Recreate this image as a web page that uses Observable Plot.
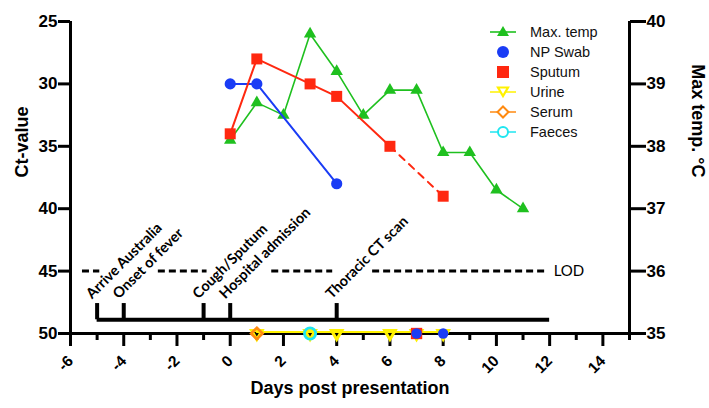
<!DOCTYPE html>
<html>
<head>
<meta charset="utf-8">
<script src="https://cdn.jsdelivr.net/npm/d3@7"></script>
<script src="https://cdn.jsdelivr.net/npm/@observablehq/plot@0.6"></script>
<style>
  body { margin: 0; background: #fff; }
  #wrap { position: relative; width: 709px; height: 408px; }
  #legend { position: absolute; left: 488px; top: 22px; font-family: 'Liberation Sans', Arial, sans-serif; font-size: 14.5px; color: #111; }
  .row { display: flex; align-items: center; height: 20px; }
  .row svg { width: 30px; height: 20px; margin-right: 12px; }
</style>
</head>
<body>
<div id="wrap"><div id="legend"></div></div>
<script>
// ---- data ----
const tempDays = [0, 1, 2, 3, 4, 5, 6, 7, 8, 9, 10, 11];
const tempValues = [38.1, 38.7, 38.5, 39.8, 39.2, 38.5, 38.9, 38.9, 37.9, 37.9, 37.3, 37.0];

const npDays = [0, 1, 4];
const npCt = [30, 30, 38];
const npNegDays = [7, 8];

const sputumDays = [0, 1, 3, 4, 6];
const sputumCt = [34, 28, 30, 31, 35];
const sputumLateDays = [6, 8];
const sputumLateCt = [35, 39];
const sputumNegDays = [7];

const urineNegDays = [1, 3, 4, 6, 7, 8];
const serumNegDays = [1];
const faecesNegDays = [3];

const negativeCt = 50;
const LOD = 45;
const lodSegStart = [-5.55, -2.7, 1.56, 5.35];
const lodSegEnd = [-4.9, -0.87, 3.85, 11.9];
const lodLabelDay = 12.15;

const eventDays = [-5, -4, -1, 0, 4];
const eventLabels = ["Arrive Australia", "Onset of fever", "Cough/Sputum", "Hospital admission", "Thoracic CT scan"];
const timelineStart = -5, timelineEnd = 12;
const timelineCt = 48.9, eventTickTopCt = 47.6;

const dayMin = -6, dayMax = 15;
const ctTop = 25, ctBottom = 50;
const ctTicks = [25, 30, 35, 40, 45, 50];
const tempTicks = [35, 36, 37, 38, 39, 40];
const majorDayTicks = [-6, -4, -2, 0, 2, 4, 6, 8, 10, 12, 14];
const minorDayTicks = [-5, -3, -1, 1, 3, 5, 7, 9, 11, 13, 15];

const C = {green: "#1fc01f", blue: "#1a3cf5", red: "#ff2810", yellow: "#fff200", orange: "#ff8a10", cyan: "#1fe6f0"};

// temperature axis (35–40 °C) shares the Ct scale (50–25)
const tempToCt = t => ctTop + (40 - t) * 5;
const ctToTemp = c => String(Math.round((40 - (c - ctTop) / 5) * 10) / 10);

const temp = tempDays.map((d, i) => ({day: d, temp: tempValues[i]}));
const np = npDays.map((d, i) => ({day: d, ct: npCt[i]}));
const sputum = sputumDays.map((d, i) => ({day: d, ct: sputumCt[i]}));
const sputumLate = sputumLateDays.map((d, i) => ({day: d, ct: sputumLateCt[i]}));
const lodSegs = lodSegStart.map((s, i) => ({start: s, end: lodSegEnd[i]}));
const events = eventDays.map((d, i) => ({day: d, label: eventLabels[i]}));

const bold = "bold";
const chart = Plot.plot({
  width: 709, height: 408,
  marginLeft: 70, marginRight: 80, marginTop: 21, marginBottom: 75,
  style: {fontFamily: "'Liberation Sans', Arial, sans-serif", color: "#000", background: "white", overflow: "visible"},
  x: {domain: [dayMin, dayMax]},
  y: {domain: [ctBottom, ctTop]},
  marks: [
    // axes
    Plot.axisY({anchor: "left", ticks: ctTicks, tickFormat: d => String(d), tickSize: 12, tickPadding: 1, strokeWidth: 3, fontSize: 17, fontWeight: bold, label: null}),
    Plot.axisY({anchor: "right", ticks: tempTicks.map(tempToCt), tickFormat: ctToTemp, tickSize: 16, tickPadding: 1, strokeWidth: 3, fontSize: 17, fontWeight: bold, label: null}),
    Plot.axisX({ticks: majorDayTicks, tickFormat: d => String(d), tickSize: 13, tickPadding: 12, tickRotate: -45, strokeWidth: 3, fontSize: 15.5, fontWeight: bold, label: null}),
    Plot.axisX({ticks: minorDayTicks, tickFormat: () => "", tickSize: 7, strokeWidth: 3, label: null}),
    Plot.ruleY([ctBottom], {strokeWidth: 3}),
    Plot.ruleX([dayMin, dayMax], {y1: ctBottom, y2: ctTop, strokeWidth: 3}),
    Plot.text(["Ct-value"], {frameAnchor: "left", rotate: -90, dx: -48, fontSize: 18, fontWeight: bold}),
    Plot.text(["Max temp. °C"], {frameAnchor: "right", rotate: 90, dx: 68, fontSize: 18, fontWeight: bold}),
    Plot.text(["Days post presentation"], {frameAnchor: "bottom", dy: 60, fontSize: 18, fontWeight: bold}),

    // LOD
    Plot.ruleY(lodSegs, {x1: "start", x2: "end", y: LOD, strokeWidth: 3, strokeDasharray: "7,4"}),
    Plot.text(["LOD"], {x: lodLabelDay, y: LOD, textAnchor: "start", fontFamily: "Lato, 'Open Sans', sans-serif", fontSize: 15}),

    // timeline
    Plot.ruleY([timelineCt], {x1: timelineStart, x2: timelineEnd, strokeWidth: 4}),
    Plot.ruleX(eventDays, {y1: timelineCt, y2: eventTickTopCt, strokeWidth: 4}),
    Plot.text(events, {x: "day", y: eventTickTopCt, text: "label", rotate: -45, textAnchor: "start", lineAnchor: "bottom", dx: -5, dy: -4, fontFamily: "Lato, 'Open Sans', sans-serif", fontSize: 14.5, fontWeight: bold}),

    // Max temp
    Plot.line(temp, {x: "day", y: d => tempToCt(d.temp), stroke: C.green, strokeWidth: 1.6}),
    Plot.dot(temp, {x: "day", y: d => tempToCt(d.temp), symbol: "triangle", fill: C.green, r: 4.6}),

    // NP swab
    Plot.line(np, {x: "day", y: "ct", stroke: C.blue, strokeWidth: 2}),
    Plot.dot(np, {x: "day", y: "ct", symbol: "circle", fill: C.blue, r: 5.6}),

    // Sputum
    Plot.line(sputum, {x: "day", y: "ct", stroke: C.red, strokeWidth: 2}),
    Plot.line(sputumLate, {x: "day", y: "ct", stroke: C.red, strokeWidth: 2, strokeDasharray: "7,6"}),
    Plot.dot(sputum.concat(sputumLate.slice(1)), {x: "day", y: "ct", symbol: "square", fill: C.red, r: 6.2}),

    // negatives on baseline
    Plot.line(urineNegDays, {x: d => d, y: negativeCt, stroke: C.yellow, strokeWidth: 2, dy: -1.5}),
    Plot.dot(urineNegDays, {x: d => d, y: negativeCt, symbol: "triangle2", rotate: 180, stroke: C.yellow, fill: "none", strokeWidth: 3, r: 5}),
    Plot.dot(sputumNegDays, {x: d => d, y: negativeCt, symbol: "square", fill: C.red, r: 6.4}),
    Plot.dot(npNegDays, {x: d => d, y: negativeCt, symbol: "circle", fill: C.blue, r: 5.2}),
    Plot.dot(serumNegDays, {x: d => d, y: negativeCt, symbol: "diamond2", stroke: C.orange, fill: "none", strokeWidth: 2.6, r: 5.2}),
    Plot.dot(faecesNegDays, {x: d => d, y: negativeCt, symbol: "circle", stroke: C.cyan, fill: "none", strokeWidth: 2.8, r: 5.6})
  ]
});
document.getElementById("wrap").prepend(chart);

// legend
const legendNames = ["Max. temp", "NP Swab", "Sputum", "Urine", "Serum", "Faeces"];
const legendSymbols = [
  `<line x1="2" y1="10" x2="28" y2="10" stroke="${C.green}" stroke-width="1.6"/><path d="M15,4 L21,14 L9,14 Z" fill="${C.green}"/>`,
  `<circle cx="15" cy="10" r="6" fill="${C.blue}"/>`,
  `<rect x="9" y="4" width="12" height="12" fill="${C.red}"/>`,
  `<line x1="2" y1="10" x2="28" y2="10" stroke="${C.yellow}" stroke-width="1.5"/><path d="M10,5.5 L20,5.5 L15,14 Z" fill="white" stroke="${C.yellow}" stroke-width="2.2"/>`,
  `<line x1="2" y1="10" x2="28" y2="10" stroke="${C.orange}" stroke-width="1.5"/><path d="M15,4.5 L20.5,10 L15,15.5 L9.5,10 Z" fill="white" stroke="${C.orange}" stroke-width="2"/>`,
  `<line x1="2" y1="10" x2="28" y2="10" stroke="${C.cyan}" stroke-width="1.5"/><circle cx="15" cy="10" r="5" fill="white" stroke="${C.cyan}" stroke-width="2"/>`
];
const legend = document.getElementById("legend");
legendNames.forEach((name, i) => {
  const row = document.createElement("div");
  row.className = "row";
  row.innerHTML = `<svg viewBox="0 0 30 20">${legendSymbols[i]}</svg><span>${name}</span>`;
  legend.appendChild(row);
});
</script>
</body>
</html>
